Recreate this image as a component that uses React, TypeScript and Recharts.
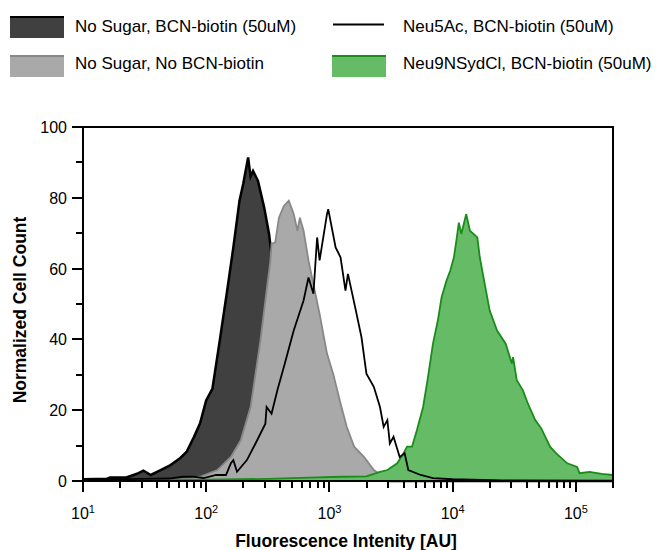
import {
  ComposedChart,
  Area,
  Line,
  XAxis,
  YAxis,
  ReferenceArea,
} from "recharts";

const FONT = "'Liberation Sans', Arial, Helvetica, sans-serif";

// x positions are log10(intensity), counts are % of max
const noSugarBcnLog = [1.0, 1.1, 1.19, 1.22, 1.35, 1.41, 1.45, 1.49, 1.55, 1.63, 1.71, 1.79, 1.84, 1.9, 1.95, 2.0, 2.05, 2.11, 2.17, 2.22, 2.27, 2.3, 2.34, 2.36, 2.38, 2.42, 2.47, 2.51, 2.55, 2.6, 2.68, 2.76, 2.84, 2.92, 3.05, 3.17, 3.3, 3.5, 5.3];
const noSugarBcnCount = [0.5, 0.6, 0.6, 1.0, 1.0, 1.7, 2.2, 2.9, 1.7, 3.1, 4.5, 6.5, 8.2, 12.4, 16.3, 22.8, 26, 39.7, 53.8, 66, 79.2, 83.9, 91.4, 86, 87.6, 84.8, 77.3, 69.8, 58, 48, 33, 20, 11, 6, 2.5, 1, 0.3, 0, 0];

const noSugarNoBcnLog = [1.0, 1.3, 1.55, 1.8, 1.95, 2.09, 2.2, 2.28, 2.36, 2.44, 2.49, 2.52, 2.53, 2.56, 2.59, 2.63, 2.67, 2.71, 2.74, 2.76, 2.79, 2.83, 2.88, 2.92, 2.98, 3.03, 3.09, 3.14, 3.2, 3.28, 3.36, 3.44, 3.53, 3.74, 5.3];
const noSugarNoBcnCount = [0.1, 0.2, 0.3, 0.6, 1.2, 3.1, 6.8, 11.5, 20.9, 39.7, 53.8, 62, 67, 67.4, 74.4, 77.7, 79.2, 75.4, 70.7, 74.4, 70.7, 62.3, 53.8, 47.2, 36, 30.3, 21.9, 15.3, 9.7, 6.8, 3.1, 1.2, 0.3, 0, 0];

const neu5AcLog = [1.0, 1.19, 1.5, 1.7, 1.81, 1.9, 1.98, 2.08, 2.16, 2.2, 2.22, 2.25, 2.33, 2.4, 2.48, 2.49, 2.53, 2.58, 2.63, 2.71, 2.79, 2.83, 2.87, 2.9, 2.92, 2.98, 2.99, 3.05, 3.09, 3.13, 3.15, 3.22, 3.26, 3.3, 3.36, 3.41, 3.44, 3.47, 3.49, 3.52, 3.57, 3.61, 3.64, 3.74, 3.84, 4.0, 4.4, 5.3];
const neu5AcCount = [0.5, 0.5, 0.6, 0.7, 1.2, 1.2, 0.8, 1.7, 1.7, 5, 5.9, 2.6, 5.9, 10.6, 16.2, 20.9, 19, 26, 32.2, 42.5, 51, 57.5, 52.9, 68.8, 62.3, 75.4, 76.8, 66, 63.2, 53.8, 58.5, 47.2, 40.6, 30.3, 26.6, 20.9, 15.3, 17.2, 10.6, 12.5, 6.8, 7.8, 3.1, 1.7, 0.8, 0.5, 0.2, 0.1];

const neu9Log = [1.0, 1.5, 2.0, 2.5, 2.9, 3.1, 3.3, 3.41, 3.47, 3.55, 3.6, 3.63, 3.67, 3.71, 3.76, 3.8, 3.84, 3.88, 3.91, 3.95, 3.98, 4.01, 4.03, 4.05, 4.07, 4.11, 4.14, 4.2, 4.22, 4.26, 4.3, 4.36, 4.43, 4.48, 4.49, 4.52, 4.57, 4.61, 4.67, 4.72, 4.79, 4.84, 4.93, 5.01, 5.03, 5.11, 5.21, 5.3];
const neu9Count = [0.2, 0.3, 0.4, 0.6, 1.0, 1.2, 1.3, 2.6, 3.1, 5, 7.8, 9.7, 9.7, 14.4, 20.9, 29.4, 38.8, 45.4, 51.9, 56.6, 59.4, 63.2, 67.9, 73, 69.8, 75.4, 70.7, 68.8, 63.2, 55.7, 48.2, 42.5, 38.8, 33.2, 35, 28.5, 25.6, 21.9, 17.2, 14.8, 9.7, 7.8, 5, 4, 2.2, 2.6, 2, 1.7];

const xTicks = [
  10, 20, 30, 40, 50, 60, 70, 80, 90,
  100, 200, 300, 400, 500, 600, 700, 800, 900,
  1000, 2000, 3000, 4000, 5000, 6000, 7000, 8000, 9000,
  10000, 20000, 30000, 40000, 50000, 60000, 70000, 80000, 90000,
  100000, 200000,
];
const yTicks = [0, 10, 20, 30, 40, 50, 60, 70, 80, 90, 100];

const toRows = (logs: number[], counts: number[]) =>
  logs.map((l, i) => ({ x: Math.pow(10, l), y: counts[i] }));

const darkData = toRows(noSugarBcnLog, noSugarBcnCount);
const lightData = toRows(noSugarNoBcnLog, noSugarNoBcnCount);
const neu5AcData = toRows(neu5AcLog, neu5AcCount);
const neu9Data = toRows(neu9Log, neu9Count);

function XTick(props: any) {
  const { x, y, payload } = props;
  const exp = Math.log10(payload.value);
  const major = Math.abs(exp - Math.round(exp)) < 1e-6;
  const px = Math.round(x);
  return (
    <g>
      <line
        x1={px}
        x2={px}
        y1={y}
        y2={y + (major ? 11 : 7)}
        stroke="#000"
        strokeWidth={2}
        shapeRendering="crispEdges"
      />
      {major && (
        <text x={x} y={y + 38} textAnchor="middle" fontSize={16} fontFamily={FONT} fill="#000">
          10<tspan dy={-6} fontSize={11}>{Math.round(exp)}</tspan>
        </text>
      )}
    </g>
  );
}

function YTick(props: any) {
  const { x, y, payload } = props;
  const major = payload.value % 20 === 0;
  const py = Math.round(y);
  return (
    <g>
      <line
        x1={x - (major ? 11 : 7)}
        x2={x}
        y1={py}
        y2={py}
        stroke="#000"
        strokeWidth={2}
        shapeRendering="crispEdges"
      />
      {major && (
        <text x={x - 16} y={y + 6} textAnchor="end" fontSize={16} fontFamily={FONT} fill="#000">
          {payload.value}
        </text>
      )}
    </g>
  );
}

function LegendBox() {
  return (
    <svg width={661} height={90} style={{ position: "absolute", left: 0, top: 0 }}>
      <g fontFamily={FONT} fontSize={17} fill="#000">
        <rect x={10} y={16} width={54} height={22} fill="#404040" />
        <line x1={10} x2={64} y1={17} y2={17} stroke="#000" strokeWidth={2} />
        <text x={75} y={32}>No Sugar, BCN-biotin (50uM)</text>

        <rect x={10} y={55} width={54} height={22} fill="#a9a9a9" />
        <line x1={10} x2={64} y1={56} y2={56} stroke="#888" strokeWidth={2} />
        <text x={75} y={69}>No Sugar, No BCN-biotin</text>

        <line x1={333} x2={384} y1={24.5} y2={24.5} stroke="#000" strokeWidth={2} />
        <text x={403} y={32}>Neu5Ac, BCN-biotin (50uM)</text>

        <rect x={332} y={55} width={54} height={22} fill="#66bb66" />
        <line x1={332} x2={386} y1={56} y2={56} stroke="#1a8c1a" strokeWidth={2} />
        <text x={403} y={69}>Neu9NSydCl, BCN-biotin (50uM)</text>
      </g>
    </svg>
  );
}

export default function App() {
  return (
    <div style={{ position: "absolute", left: 0, top: 0, width: 661, height: 550, background: "#fff" }}>
      <LegendBox />
      <div style={{ position: "absolute", left: 0, top: 0 }}>
        <ComposedChart width={661} height={550} margin={{ top: 127, right: 48, bottom: 0, left: 0 }}>
          <XAxis
            dataKey="x"
            type="number"
            scale="log"
            domain={[10, 200000]}
            allowDataOverflow
            ticks={xTicks}
            interval={0}
            height={69}
            tickSize={0}
            tickMargin={0}
            axisLine={{ stroke: "#000", strokeWidth: 2 }}
            tick={(p: any) => <XTick {...p} />}
          />
          <YAxis
            type="number"
            domain={[0, 100]}
            ticks={yTicks}
            interval={0}
            width={83}
            tickSize={0}
            tickMargin={0}
            axisLine={{ stroke: "#000", strokeWidth: 2 }}
            tick={(p: any) => <YTick {...p} />}
          />
          <Area
            data={darkData}
            dataKey="y"
            type="linear"
            fill="#404040"
            fillOpacity={1}
            stroke="#000"
            strokeWidth={2.5}
            isAnimationActive={false}
            dot={false}
            activeDot={false}
          />
          <Area
            data={lightData}
            dataKey="y"
            type="linear"
            fill="#a9a9a9"
            fillOpacity={1}
            stroke="#888"
            strokeWidth={1.8}
            isAnimationActive={false}
            dot={false}
            activeDot={false}
          />
          <Area
            data={neu9Data}
            dataKey="y"
            type="linear"
            fill="#66bb66"
            fillOpacity={1}
            stroke="#1a8c1a"
            strokeWidth={1.8}
            isAnimationActive={false}
            dot={false}
            activeDot={false}
          />
          <Line
            data={neu5AcData}
            dataKey="y"
            type="linear"
            stroke="#000"
            strokeWidth={1.8}
            isAnimationActive={false}
            dot={false}
            activeDot={false}
          />
          <ReferenceArea
            x1={10}
            x2={200000}
            y1={0}
            y2={100}
            fill="none"
            stroke="#000"
            strokeWidth={2}
            strokeOpacity={1}
            ifOverflow="visible"
          />
          <text
            x={346}
            y={547}
            textAnchor="middle"
            fontFamily={FONT}
            fontSize={17.5}
            fontWeight="bold"
          >
            Fluorescence Intenity [AU]
          </text>
          <text
            x={25.5}
            y={310}
            transform="rotate(-90 25.5 310)"
            textAnchor="middle"
            fontFamily={FONT}
            fontSize={17.5}
            fontWeight="bold"
          >
            Normalized Cell Count
          </text>
        </ComposedChart>
      </div>
    </div>
  );
}
